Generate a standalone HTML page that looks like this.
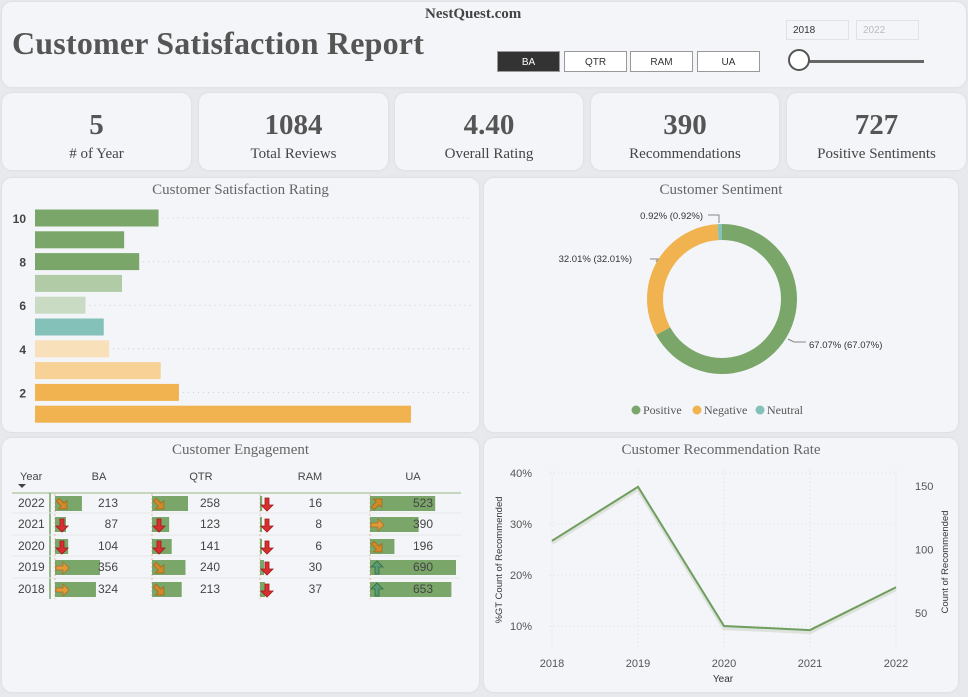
<!DOCTYPE html>
<html><head><meta charset="utf-8">
<style>
body{margin:0;width:968px;height:697px;background:#e8e9ec;font-family:"Liberation Sans",sans-serif;position:relative;overflow:hidden}
.card{position:absolute;background:#f4f5f9;border-radius:10px;box-shadow:0 0 3px rgba(0,0,0,0.08)}
.serif{font-family:"Liberation Serif",serif}
.kv{position:absolute;left:0;right:0;top:16px;text-align:center;font:bold 29px "Liberation Serif",serif;color:#555}
.kl{position:absolute;left:0;right:0;top:53px;text-align:center;font:15px "Liberation Serif",serif;color:#444}
.ptitle{position:absolute;left:0;right:0;top:4px;text-align:center;font:15px "Liberation Serif",serif;color:#666}
.btn{position:absolute;top:51px;width:63px;height:21px;border:1px solid #999;background:#fff;font-size:10px;line-height:21px;text-align:center;color:#333;box-sizing:border-box}
</style></head><body>
<div class="card" style="left:2px;top:2px;width:964px;height:85px"></div>
<div class="serif" style="position:absolute;left:425px;top:6px;font-weight:bold;font-size:15px;color:#444">NestQuest.com</div>
<div class="serif" style="position:absolute;left:12px;top:25px;font-weight:bold;font-size:32px;color:#555;letter-spacing:0.2px">Customer Satisfaction Report</div>
<div class="btn" style="left:497px;background:#333;color:#fff">BA</div>
<div class="btn" style="left:564px">QTR</div>
<div class="btn" style="left:630px">RAM</div>
<div class="btn" style="left:697px">UA</div>
<div style="position:absolute;left:786px;top:20px;width:63px;height:20px;border:1px solid #e2e2e6;font-size:10px;line-height:20px;padding-left:6px;box-sizing:border-box;color:#333">2018</div>
<div style="position:absolute;left:856px;top:20px;width:63px;height:20px;border:1px solid #e2e2e6;font-size:10px;line-height:20px;padding-left:6px;box-sizing:border-box;color:#bbb">2022</div>
<div style="position:absolute;left:800px;top:60px;width:124px;height:3px;background:#666"></div>
<div style="position:absolute;left:788px;top:49px;width:22px;height:22px;border:2px solid #555;border-radius:50%;background:#fff;box-sizing:border-box"></div>

<div class="card" style="left:2px;top:93px;width:189px;height:77px"><div class="kv">5</div><div class="kl"># of Year</div></div>
<div class="card" style="left:199px;top:93px;width:189px;height:77px"><div class="kv">1084</div><div class="kl">Total Reviews</div></div>
<div class="card" style="left:395px;top:93px;width:188px;height:77px"><div class="kv">4.40</div><div class="kl">Overall Rating</div></div>
<div class="card" style="left:591px;top:93px;width:188px;height:77px"><div class="kv">390</div><div class="kl">Recommendations</div></div>
<div class="card" style="left:787px;top:93px;width:179px;height:77px"><div class="kv">727</div><div class="kl">Positive Sentiments</div></div>

<div class="card" style="left:2px;top:178px;width:477px;height:254px"><div class="ptitle">Customer Satisfaction Rating</div></div>
<div class="card" style="left:484px;top:178px;width:474px;height:254px"><div class="ptitle">Customer Sentiment</div></div>
<div class="card" style="left:2px;top:438px;width:477px;height:254px"><div class="ptitle">Customer Engagement</div></div>
<div class="card" style="left:484px;top:438px;width:474px;height:254px"><div class="ptitle">Customer Recommendation Rate</div></div>

<svg id="svg" width="968" height="697" style="position:absolute;left:0;top:0" font-family="Liberation Sans, sans-serif"></svg>
<script>
// Rating chart data
const ratings=[10,9,8,7,6,5,4,3,2,1];
const ratingCounts=[115,83,97,81,47,64,69,117,134,350];
const ratingColors=['#7aa66a','#7aa66a','#7aa66a','#b0cba6','#c9dbc3','#84c1b8','#f8e0bb','#f7d196','#f0b350','#f0b350'];
const ratingTicks=[10,8,6,4,2];
// Sentiment data
const sentLabels=['Positive','Negative','Neutral'];
const sentValues=[67.07,32.01,0.92];
const sentColors=['#7aa66a','#f0b350','#84c1b8'];
// Engagement data
const engYears=[2022,2021,2020,2019,2018];
const engCols=['BA','QTR','RAM','UA'];
const engBA=[213,87,104,356,324];
const engQTR=[258,123,141,240,213];
const engRAM=[16,8,6,30,37];
const engUA=[523,390,196,690,653];
const engIcons=[['se','dn','dn','rt','rt'],['se','dn','dn','se','se'],['dn','dn','dn','dn','dn'],['ne','rt','se','up','up']];
// Recommendation data
const recYears=[2018,2019,2020,2021,2022];
const recPct=[26.7,37.3,10.0,9.2,17.6];
const recPctTicks=[10,20,30,40];
const recCountTicks=[50,100,150];

const svg=document.getElementById('svg');
const NS='http://www.w3.org/2000/svg';
function mk(tag,attrs,parent){const e=document.createElementNS(NS,tag);for(const k in attrs)e.setAttribute(k,attrs[k]);(parent||svg).appendChild(e);return e;}
function tx(x,y,s,attrs){const e=mk('text',Object.assign({x:x,y:y},attrs||{}));e.textContent=s;return e;}

// ---- Rating bars
const rx=v=>35+v*(376/350);
const ry=r=>218+(10-r)*21.8;
ratingTicks.forEach(t=>{
  const l=mk('line',{x1:rx(ratingCounts[ratings.indexOf(t)])+4,x2:472,y1:ry(t),y2:ry(t),stroke:'#ccc','stroke-dasharray':'1 4'});
  
  
  const e=tx(26,ry(t)+5,String(t),{'text-anchor':'end','font-size':12,'font-weight':'bold',fill:'#444'});
  
  
});
ratings.forEach((r,i)=>{
  const b=mk('rect',{x:35,y:ry(r)-8.5,width:rx(ratingCounts[i])-35,height:17,fill:ratingColors[i]});
  
  
});

// ---- Donut
const cx=722,cy=299,R=75,r0=59;
let acc=0;const tot=sentValues.reduce((a,b)=>a+b,0);
function pt(a,rr){return [cx+rr*Math.sin(a),cy-rr*Math.cos(a)];}
sentValues.forEach((v,i)=>{
  const a0=acc/tot*2*Math.PI;acc+=v;const a1=acc/tot*2*Math.PI;
  const lg=(a1-a0)>Math.PI?1:0;
  const p1=pt(a0,R),p2=pt(a1,R),p3=pt(a1,r0),p4=pt(a0,r0);
  const s=mk('path',{d:`M${p1[0]},${p1[1]}A${R},${R} 0 ${lg} 1 ${p2[0]},${p2[1]}L${p3[0]},${p3[1]}A${r0},${r0} 0 ${lg} 0 ${p4[0]},${p4[1]}Z`,fill:sentColors[i]});
  
  
});
mk('path',{d:'M788,339 L794,342 L806,342',stroke:'#888',fill:'none'});
mk('path',{d:'M650,259 L658,259 L656,262',stroke:'#888',fill:'none'});
mk('path',{d:'M708,215 L719,215 L719,223',stroke:'#888',fill:'none'});
sentValues.forEach((v,i)=>{
  const p=[[809,348,'start'],[632,262,'end'],[703,219,'end']][i];
  const e=tx(p[0],p[1],v.toFixed(2)+'% ('+v.toFixed(2)+'%)',{'text-anchor':p[2],'font-size':9.5,fill:'#333'});
  
  
});
let lx=632;
sentLabels.forEach((l,i)=>{
  const c=mk('circle',{cx:lx+4,cy:410,r:4.5,fill:sentColors[i]});
  
  
  const e=tx(lx+11,414,l,{'font-size':12,'font-family':'Liberation Serif, serif',fill:'#555'});
  
  
  lx+=[61,63,0][i];
});

// ---- Engagement table
const colData=[engBA,engQTR,engRAM,engUA];
const colBarX=[55,152,260,370];
const colNumX=[118,220,322,433];
const colHeadX=[99,201,310,413];
const colMaxW=[45,36,5,86];
const rowY=[503,524,546,567,589];
tx(20,480,'Year',{'font-size':11,fill:'#444'});
mk('path',{d:'M18,484 L26,484 L22,488 Z',fill:'#444'});
engCols.forEach((c,j)=>{const e=tx(colHeadX[j],480,c,{'text-anchor':'middle','font-size':11,fill:'#444'});
  
  });
mk('line',{x1:12,x2:461,y1:493,y2:493,stroke:'#b6cca8','stroke-width':1.5});
mk('line',{x1:50,x2:50,y1:493,y2:599,stroke:'#7aa66a','stroke-width':1.5});
rowY.forEach((y,i)=>{ if(i>0) mk('line',{x1:12,x2:461,y1:y-11,y2:y-11,stroke:'#e4e6e8'}); });
colBarX.forEach(x=>mk('line',{x1:x,x2:x,y1:494,y2:599,stroke:'#f0a080','stroke-dasharray':'2 2','stroke-width':0.7}));
const icon={se:[135,'#d08a2a','#a86a18'],dn:[180,'#d83030','#a01818'],rt:[90,'#e09a3a','#b07020'],ne:[45,'#d08a2a','#a86a18'],up:[0,'#5a9a70','#2e6e4a']};
function arrow(x,y,kind){
  const ic=icon[kind];
  const a=mk('path',{d:'M-2,6 L-2,-1 L-6,-1 L0,-7 L6,-1 L2,-1 L2,6 Z',fill:ic[1],stroke:ic[2],'stroke-width':0.8,transform:`translate(${x},${y}) rotate(${ic[0]})`});
  
  
}
engYears.forEach((yr,i)=>{
  const y=rowY[i];
  tx(18,y+4,String(yr),{'font-size':12,fill:'#444'});
  colData.forEach((arr,j)=>{
    const max=Math.max(...arr);
    const b=mk('rect',{x:colBarX[j],y:y-7,width:Math.max(2,arr[i]/max*colMaxW[j]),height:15,fill:'#7aa66a'});
    
    
    arrow(colBarX[j]+7,y+1,engIcons[j][i]);
    const e=tx(colNumX[j],y+4,String(arr[i]),{'text-anchor':'end','font-size':12,fill:'#444'});
    
    
  });
});

// ---- Recommendation line
const lxs=y=>552+(y-2018)*86;
const lys=p=>626-(p-10)*5.1;
const cys=c=>613-(c-50)*1.27;
recYears.forEach(y=>{
  mk('line',{x1:lxs(y),x2:lxs(y),y1:470,y2:650,stroke:'#ddd','stroke-dasharray':'1 3'});
  const e=tx(lxs(y),667,String(y),{'text-anchor':'middle','font-size':11,fill:'#555'});
  
  
});
recPctTicks.forEach(t=>{
  mk('line',{x1:550,x2:898,y1:lys(t),y2:lys(t),stroke:'#ddd','stroke-dasharray':'1 3'});
  const e=tx(532,lys(t)+4,t+'%',{'text-anchor':'end','font-size':11,fill:'#555'});
  
  
});
recCountTicks.forEach(t=>{
  const e=tx(915,cys(t)+4,String(t),{'font-size':11,fill:'#555'});
  
  
});
const pts=recYears.map((y,i)=>lxs(y)+','+lys(recPct[i])).join(' ');
mk('polyline',{points:pts,fill:'none',stroke:'#dde2dc','stroke-width':4,transform:'translate(0,2)'});
const ln=mk('polyline',{points:pts,fill:'none',stroke:'#6f9e5e','stroke-width':2});


let t1=tx(0,0,'Year',{'text-anchor':'middle','font-size':10,fill:'#333',transform:'translate(723,682)'});

let t2=tx(0,0,'%GT Count of Recommended',{'text-anchor':'middle','font-size':9.5,fill:'#333',transform:'translate(502,560) rotate(-90)'});

let t3=tx(0,0,'Count of Recommended',{'text-anchor':'middle','font-size':9.5,fill:'#333',transform:'translate(948,562) rotate(-90)'});

</script>
</body></html>
